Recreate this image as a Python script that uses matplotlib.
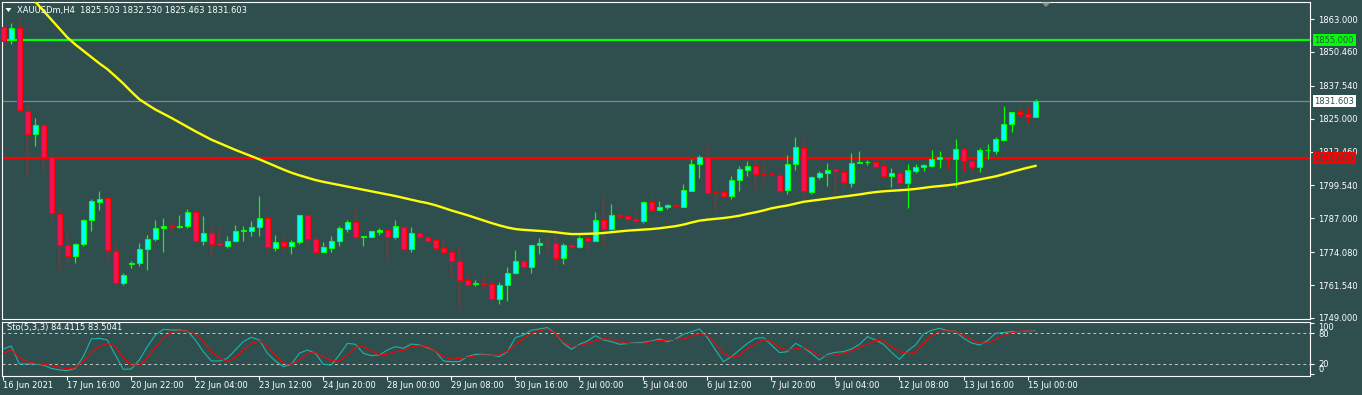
import numpy as np
import matplotlib.pyplot as plt
from matplotlib.patches import Polygon

# ---- candle data, XAUUSDm H4 ----
opens = [1860.1, 1855.0, 1859.5, 1828.1, 1819.1, 1822.6, 1810.5, 1788.6, 1776.9, 1772.7,
         1777.2, 1786.2, 1793.4, 1794.7, 1774.7, 1762.5, 1769.5, 1769.9, 1775.3, 1779.1,
         1783.3, 1784.0, 1783.5, 1783.9, 1789.4, 1778.4, 1781.3, 1777.4, 1776.6, 1778.2,
         1782.0, 1782.2, 1783.6, 1787.1, 1775.6, 1777.9, 1776.4, 1777.8, 1788.2, 1779.1,
         1774.3, 1775.6, 1778.2, 1783.1, 1785.5, 1780.0, 1779.8, 1781.7, 1782.6, 1779.7,
         1783.6, 1775.3, 1781.3, 1779.8, 1778.7, 1775.6, 1774.1, 1770.9, 1763.3, 1761.8,
         1762.3, 1762.0, 1756.2, 1761.4, 1766.1, 1770.8, 1768.6, 1776.7, 1777.7, 1777.5,
         1771.8, 1776.8, 1776.0, 1779.5, 1778.5, 1786.3, 1783.1, 1788.1, 1788.0, 1786.8,
         1786.0, 1793.2, 1790.0, 1791.3, 1792.0, 1791.5, 1797.6, 1807.6, 1810.2, 1797.2,
         1797.0, 1795.7, 1801.5, 1805.6, 1806.9, 1804.0, 1804.0, 1803.7, 1797.8, 1807.8,
         1813.9, 1797.0, 1802.7, 1804.2, 1805.9, 1804.8, 1800.4, 1808.1, 1808.3, 1808.5,
         1806.9, 1803.3, 1804.2, 1800.4, 1805.2, 1806.4, 1807.1, 1809.5, 1810.3, 1809.5,
         1813.3, 1808.9, 1806.5, 1813.0, 1812.8, 1816.9, 1822.9, 1827.4, 1826.8, 1825.503]
highs = [1860.6, 1861.4, 1863.3, 1830.5, 1825.4, 1822.8, 1812.1, 1790.9, 1782.6, 1777.5,
         1786.8, 1794.3, 1797.5, 1794.8, 1777.2, 1766.3, 1770.8, 1777.5, 1780.7, 1786.4,
         1787.3, 1785.5, 1788.3, 1790.6, 1789.8, 1787.9, 1783.9, 1783.9, 1780.3, 1784.5,
         1784.1, 1786.0, 1795.6, 1787.9, 1780.6, 1780.6, 1778.8, 1788.4, 1788.7, 1780.3,
         1777.9, 1780.3, 1784.1, 1786.2, 1790.9, 1780.4, 1782.2, 1783.4, 1782.7, 1786.4,
         1784.1, 1783.8, 1781.8, 1780.3, 1778.7, 1779.4, 1774.1, 1776.5, 1766.5, 1763.3,
         1765.2, 1763.3, 1762.7, 1768.4, 1775.0, 1771.2, 1776.8, 1779.6, 1780.3, 1783.4,
         1777.5, 1777.5, 1780.3, 1780.3, 1789.5, 1795.6, 1792.5, 1789.0, 1788.2, 1789.7,
         1793.7, 1795.1, 1793.7, 1792.6, 1793.3, 1800.0, 1809.5, 1811.2, 1815.4, 1798.0,
         1797.8, 1803.2, 1807.0, 1808.9, 1810.3, 1808.4, 1805.5, 1805.2, 1811.2, 1817.9,
         1818.5, 1803.2, 1805.1, 1808.0, 1805.9, 1806.1, 1811.8, 1812.7, 1809.4, 1809.0,
         1810.9, 1806.0, 1805.4, 1807.8, 1807.8, 1807.8, 1813.1, 1812.6, 1810.3, 1817.3,
         1814.1, 1809.3, 1813.7, 1815.4, 1818.2, 1829.9, 1827.4, 1828.6, 1829.4, 1832.530]
lows = [1852.4, 1853.6, 1827.4, 1803.3, 1814.7, 1805.5, 1786.2, 1767.4, 1770.1, 1770.1,
        1776.6, 1782.2, 1790.2, 1769.9, 1762.2, 1761.4, 1768.0, 1769.0, 1767.1, 1778.2,
        1774.0, 1782.3, 1783.3, 1783.3, 1777.3, 1776.9, 1772.8, 1776.6, 1775.6, 1777.8,
        1778.2, 1780.4, 1780.4, 1773.7, 1774.7, 1774.7, 1773.5, 1777.3, 1776.0, 1774.3,
        1774.0, 1774.3, 1776.3, 1781.6, 1779.1, 1776.6, 1779.7, 1780.7, 1770.9, 1779.2,
        1774.3, 1774.0, 1778.4, 1777.5, 1774.7, 1772.8, 1764.8, 1751.5, 1760.8, 1761.0,
        1760.0, 1756.2, 1754.3, 1755.6, 1765.8, 1768.6, 1766.3, 1773.5, 1773.7, 1769.0,
        1769.4, 1775.6, 1775.6, 1774.6, 1778.2, 1776.0, 1782.6, 1786.8, 1785.9, 1785.2,
        1785.2, 1789.6, 1790.0, 1790.5, 1791.3, 1791.3, 1797.6, 1802.5, 1795.9, 1789.7,
        1795.3, 1794.3, 1797.6, 1803.3, 1797.4, 1800.6, 1802.7, 1797.1, 1796.1, 1805.5,
        1794.7, 1796.3, 1802.0, 1799.5, 1796.8, 1798.9, 1798.9, 1808.0, 1807.4, 1806.5,
        1802.5, 1799.1, 1798.5, 1791.1, 1804.2, 1805.2, 1806.7, 1806.3, 1805.8, 1799.1,
        1805.2, 1805.5, 1804.8, 1809.7, 1811.6, 1816.5, 1820.1, 1825.5, 1823.5, 1825.463]
closes = [1854.6, 1859.5, 1828.3, 1819.2, 1822.6, 1810.5, 1789.0, 1776.9, 1772.7, 1777.2,
          1786.4, 1793.7, 1794.4, 1775.0, 1762.3, 1765.5, 1770.0, 1775.3, 1779.1, 1783.3,
          1784.1, 1783.6, 1784.1, 1789.4, 1778.2, 1781.3, 1777.2, 1776.7, 1778.4, 1782.2,
          1782.5, 1783.6, 1787.1, 1776.0, 1777.9, 1776.4, 1777.9, 1788.2, 1779.1, 1774.3,
          1776.0, 1778.3, 1783.3, 1785.5, 1779.8, 1780.2, 1782.1, 1782.6, 1779.8, 1784.0,
          1775.3, 1781.3, 1779.8, 1778.5, 1775.6, 1774.0, 1770.9, 1763.3, 1761.7, 1762.2,
          1762.0, 1756.2, 1761.7, 1766.1, 1770.7, 1768.6, 1776.8, 1777.7, 1777.4, 1771.8,
          1776.8, 1776.0, 1779.4, 1778.5, 1786.3, 1783.1, 1788.2, 1787.8, 1786.7, 1786.0,
          1793.2, 1790.0, 1791.3, 1792.0, 1791.7, 1797.8, 1807.6, 1810.3, 1796.8, 1796.9,
          1795.7, 1801.5, 1805.7, 1806.9, 1803.8, 1803.8, 1803.8, 1797.6, 1807.8, 1814.3,
          1797.4, 1802.7, 1804.2, 1805.5, 1805.1, 1800.8, 1808.0, 1808.3, 1808.4, 1806.7,
          1803.3, 1804.2, 1800.4, 1805.5, 1806.5, 1807.4, 1809.5, 1810.3, 1809.7, 1813.3,
          1808.9, 1806.5, 1813.1, 1813.2, 1817.2, 1823.0, 1827.4, 1826.7, 1825.5, 1831.603]

# yellow moving average
ma = [1883.0, 1879.7, 1876.4, 1873.0, 1869.6, 1866.2, 1862.8, 1859.4, 1856.0, 1853.3,
      1850.9, 1848.5, 1846.1, 1843.9, 1841.2, 1838.4, 1835.3, 1832.4, 1830.4, 1828.5,
      1826.9, 1825.3, 1823.6, 1821.9, 1820.2, 1818.6, 1817.0, 1815.7, 1814.4, 1813.1,
      1811.9, 1810.7, 1809.5, 1808.2, 1806.9, 1805.6, 1804.4, 1803.4, 1802.5, 1801.6,
      1800.9, 1800.3, 1799.7, 1799.1, 1798.5, 1797.9, 1797.3, 1796.7, 1796.1, 1795.5,
      1794.8, 1794.1, 1793.4, 1792.8, 1792.0, 1791.0, 1790.0, 1789.1, 1788.2, 1787.2,
      1786.2, 1785.2, 1784.3, 1783.5, 1782.9, 1782.6, 1782.4, 1782.2, 1782.0, 1781.7,
      1781.3, 1781.0, 1781.0, 1781.1, 1781.2, 1781.4, 1781.7, 1782.0, 1782.3, 1782.5,
      1782.7, 1782.9, 1783.2, 1783.6, 1784.0, 1784.6, 1785.4, 1786.1, 1786.5, 1786.8,
      1787.1, 1787.5, 1788.0, 1788.7, 1789.3, 1790.0, 1790.8, 1791.4, 1791.9, 1792.6,
      1793.3, 1793.7, 1794.1, 1794.5, 1794.9, 1795.3, 1795.7, 1796.1, 1796.6, 1797.0,
      1797.3, 1797.5, 1797.7, 1797.9, 1798.2, 1798.6, 1799.0, 1799.3, 1799.6, 1800.0,
      1800.6, 1801.2, 1801.8, 1802.4, 1803.0, 1803.8, 1804.7, 1805.5, 1806.3, 1807.0]

# Stochastic(5,3,3): main and signal
sto_main = [49.4, 55.2, 20.0, 20.0, 20.0, 18.0, 11.5, 8.3, 7.0, 11.5,
            34.4, 68.9, 70.2, 67.0, 37.6, 9.6, 10.2, 27.8, 53.9, 76.7,
            87.8, 86.5, 86.5, 84.6, 67.0, 44.1, 25.9, 25.9, 31.1, 47.4,
            63.7, 72.2, 67.0, 40.9, 25.9, 14.8, 19.4, 40.9, 47.4, 40.9,
            19.4, 18.0, 37.6, 60.4, 58.5, 40.9, 36.3, 37.6, 47.4, 53.9,
            50.7, 59.1, 57.2, 52.0, 45.4, 25.9, 24.6, 24.6, 34.4, 38.9,
            38.9, 37.6, 34.4, 44.1, 71.5, 76.7, 85.9, 88.5, 91.1, 80.0,
            60.4, 48.7, 58.5, 65.0, 75.4, 67.0, 63.7, 58.5, 59.8, 61.7,
            62.4, 65.0, 68.9, 63.7, 68.9, 78.0, 83.3, 88.5, 71.5, 47.4,
            24.6, 34.4, 47.4, 60.4, 70.2, 71.5, 57.2, 42.2, 44.1, 60.4,
            51.9, 40.9, 27.8, 38.9, 42.8, 44.1, 49.4, 58.5, 73.5, 67.0,
            58.5, 42.8, 29.1, 45.4, 57.2, 78.7, 85.9, 89.8, 85.2, 83.9,
            70.2, 61.1, 57.2, 65.7, 80.0, 81.3, 83.3, 83.3, 84.6, 84.4115]
sto_signal = [40.9, 47.4, 32.4, 24.6, 21.3, 19.4, 16.8, 13.5, 10.2, 12.8,
              24.6, 42.8, 53.9, 60.4, 53.9, 32.4, 18.0, 18.0, 32.4, 52.0,
              70.2, 82.0, 84.6, 84.6, 78.0, 63.7, 44.1, 32.4, 24.6, 32.4,
              47.4, 60.4, 65.0, 53.9, 37.6, 21.3, 19.4, 27.8, 40.9, 42.2,
              34.4, 26.5, 25.9, 37.6, 52.6, 53.9, 45.4, 37.6, 38.9, 44.1,
              47.4, 53.3, 55.9, 53.9, 45.4, 34.4, 29.1, 31.1, 33.1, 36.3,
              37.6, 37.0, 37.6, 45.4, 57.2, 70.2, 80.0, 85.2, 88.5, 80.0,
              62.4, 55.2, 55.9, 60.4, 65.0, 69.5, 68.2, 63.7, 60.4, 60.4,
              60.4, 63.7, 65.7, 67.0, 68.2, 68.9, 74.8, 79.3, 75.4, 58.5,
              40.9, 33.1, 36.3, 50.7, 58.5, 68.2, 63.7, 52.0, 47.4, 50.0,
              52.6, 45.4, 36.3, 36.3, 37.6, 40.9, 45.4, 52.6, 58.5, 66.3,
              65.0, 53.9, 44.1, 40.9, 42.8, 60.4, 75.4, 83.9, 84.6, 83.9,
              75.4, 67.0, 60.4, 61.1, 68.2, 75.4, 81.3, 83.9, 84.6, 83.5041]

time_labels = ["16 Jun 2021", "17 Jun 16:00", "20 Jun 22:00", "22 Jun 04:00", "23 Jun 12:00",
               "24 Jun 20:00", "28 Jun 00:00", "29 Jun 08:00", "30 Jun 16:00", "2 Jul 00:00",
               "5 Jul 04:00", "6 Jul 12:00", "7 Jul 20:00", "9 Jul 04:00", "12 Jul 08:00",
               "13 Jul 16:00", "15 Jul 00:00"]
price_ticks = [1863.000, 1850.460, 1837.540, 1825.000, 1812.460,
               1799.540, 1787.000, 1774.080, 1761.540, 1749.000]
resistance = 1855.0
support = 1810.0
bid = 1831.603

# ---- styling ----
W, H = 1362, 395
BG = "#2F4F4F"
UP_EDGE, UP_FILL = "#00FF00", "#00FFFF"
DN_EDGE, DN_FILL = "#FF0000", "#F5105A"
FS = 6

plt.rcParams["font.family"] = "DejaVu Sans"

o = np.array(opens)
h = np.array(highs)
l = np.array(lows)
c = np.array(closes)
x = np.arange(len(c))
up = c >= o

fig = plt.figure(figsize=(W / 100, H / 100), dpi=100, facecolor=BG)
ax = fig.add_axes([2 / W, 1 - 319 / H, 1308 / W, 317 / H], facecolor=BG)
ax2 = fig.add_axes([2 / W, 1 - 375.7 / H, 1308 / W, 54 / H], facecolor=BG)

# main chart: candles
edge = np.where(up, UP_EDGE, DN_EDGE)
fill = np.where(up, UP_FILL, DN_FILL)
ax.vlines(x, l, h, colors=edge, lw=0.9, zorder=2)
ax.bar(x, c - o, bottom=o, width=0.6, color=fill, edgecolor=edge, linewidth=0.8, zorder=3)

ax.plot(x, ma, color="#FFFF00", lw=1.7, zorder=4)
ax.axhline(resistance, color="#00FF00", lw=1.6, zorder=1)
ax.axhline(support, color="#FF0000", lw=1.6, zorder=1)
ax.axhline(bid, color="#778899", lw=0.9, zorder=1)

ax.set_xlim(-0.16, 163.3)
ax.set_ylim(1748.6, 1869.5)
ax.set_xticks([])
ax.yaxis.tick_right()
ax.set_yticks(price_ticks, labels=[f"{v:.3f}" for v in price_ticks])
ax.tick_params(axis="y", colors="white", labelcolor="white", length=3, width=0.8,
               labelsize=FS, pad=3)
for s in ax.spines.values():
    s.set_color("white")
    s.set_linewidth(0.8)

# price flags on the right scale
for val, bg in [(resistance, "#00FF00"), (bid, "#FFFFFF"), (support, "#FF0000")]:
    ax.text(1.0035, val, f"{val:.3f}", transform=ax.get_yaxis_transform(),
            ha="left", va="center", fontsize=FS, color=BG, clip_on=False, zorder=10,
            bbox=dict(boxstyle="square,pad=0.18", fc=bg, ec="none"))

fig.text(17 / W, 1 - 10 / H, "XAUUSDm,H4  1825.503 1832.530 1825.463 1831.603",
         color="white", fontsize=FS, va="center", ha="left")
fig.add_artist(Polygon([(5.5 / W, 1 - 8 / H), (11.5 / W, 1 - 8 / H), (8.5 / W, 1 - 12 / H)],
                       closed=True, transform=fig.transFigure, fc="white", ec="none"))
fig.add_artist(Polygon([(1041.5 / W, 1 - 2.5 / H), (1050.5 / W, 1 - 2.5 / H), (1046 / W, 1 - 7 / H)],
                       closed=True, transform=fig.transFigure, fc="#8C8C8C", ec="none"))

# stochastic window
ax2.plot(x, sto_main, color="#20B2AA", lw=0.8, zorder=3)
ax2.plot(x, sto_signal, color="#FF0000", lw=0.8, zorder=4)
for lev in (80, 20):
    ax2.axhline(lev, color="#C8C8C8", lw=0.7, ls=(0, (3, 3)), zorder=1)
ax2.set_xlim(-0.16, 163.3)
ax2.set_ylim(-2.9, 102.7)
ax2.yaxis.tick_right()
ax2.set_yticks([100, 80, 20, 0], labels=["100", "80", "20", "0"])
ax2.tick_params(axis="y", colors="white", labelcolor="white", length=3, width=0.8,
                labelsize=FS, pad=3)
ylabels = ax2.get_yticklabels()
ylabels[0].set_va("top")
ylabels[3].set_va("bottom")
ax2.set_xticks(np.arange(0, 129, 8), labels=time_labels)
ax2.tick_params(axis="x", colors="white", labelcolor="white", length=3, width=0.8,
                labelsize=FS, pad=1)
for t in ax2.get_xticklabels():
    t.set_ha("left")
for s in ax2.spines.values():
    s.set_color("white")
    s.set_linewidth(0.8)
ax2.text(5 / 1308, 92, "Sto(5,3,3) 84.4115 83.5041", transform=ax2.get_yaxis_transform(),
         color="white", fontsize=FS, va="center", ha="left")

fig.savefig("out.png", dpi=100, facecolor=BG)
